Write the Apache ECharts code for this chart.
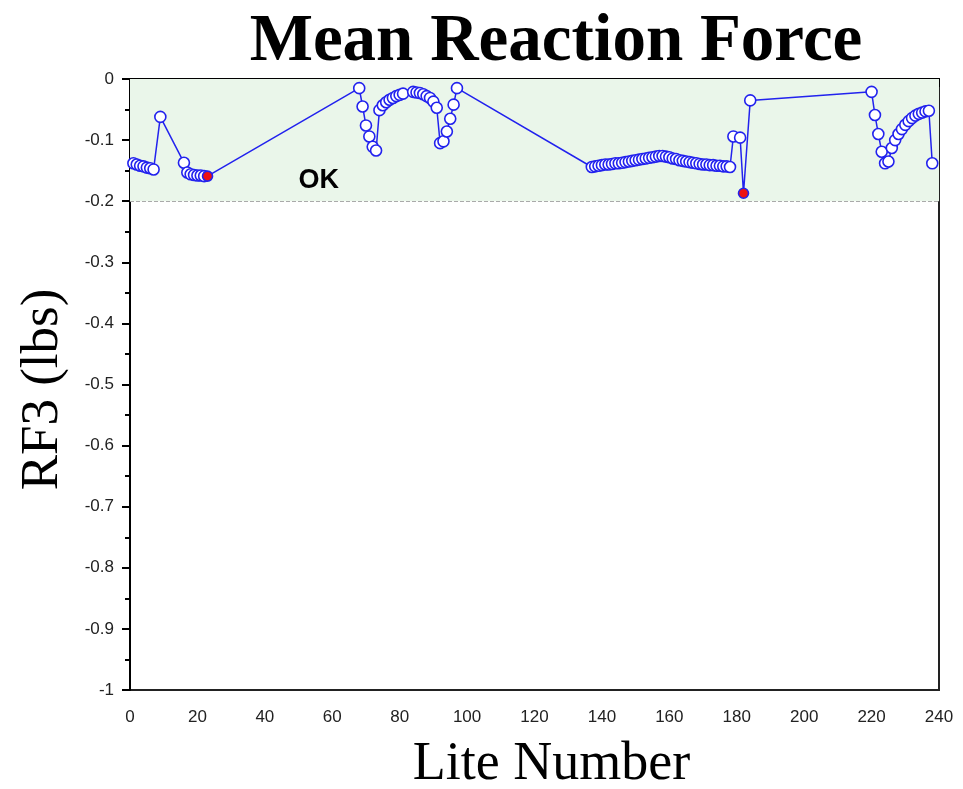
<!DOCTYPE html>
<html>
<head>
<meta charset="utf-8">
<script src="https://cdn.jsdelivr.net/npm/echarts@6/dist/echarts.min.js"></script>
<style>html,body{margin:0;padding:0;background:#fff;}#c{width:963px;height:789px;}</style>
</head>
<body>
<div id="c"></div>
<script>
// ---- data ----
const liteNumbers = [
  1,2,3,4,5,6,7,
  9,
  16,17,18,19,20,21,22,23,
  68,69,70,71,72,73,
  74,75,76,77,78,79,80,81,
  84,85,86,87,88,89,90,91,
  92,93,94,95,96,97,
  137,138,139,140,141,142,143,144,145,146,147,148,149,150,151,152,153,154,155,156,157,
  158,159,160,161,162,163,164,165,166,167,168,169,170,171,172,173,174,175,176,177,178,
  179,181,182,184,
  220,221,222,223,224,225,
  226,227,228,229,230,231,232,233,234,235,236,237,
  238
];
const rf3Values = [
  -0.138,-0.140,-0.142,-0.143,-0.145,-0.146,-0.148,
  -0.062,
  -0.137,-0.153,-0.156,-0.157,-0.158,-0.158,-0.159,-0.159,
  -0.015,-0.045,-0.076,-0.094,-0.111,-0.117,
  -0.051,-0.043,-0.038,-0.034,-0.031,-0.028,-0.026,-0.024,
  -0.021,-0.022,-0.023,-0.025,-0.028,-0.031,-0.037,-0.047,
  -0.105,-0.102,-0.086,-0.065,-0.042,-0.015,
  -0.144,-0.143,-0.142,-0.141,-0.140,-0.140,-0.139,-0.138,-0.138,-0.137,-0.136,-0.135,-0.134,-0.133,-0.132,-0.131,-0.130,-0.129,-0.128,-0.127,-0.126,
  -0.126,-0.127,-0.128,-0.130,-0.131,-0.133,-0.134,-0.135,-0.136,-0.137,-0.138,-0.139,-0.140,-0.140,-0.141,-0.141,-0.142,-0.142,-0.143,-0.143,-0.144,
  -0.094,-0.096,-0.187,-0.035,
  -0.021,-0.059,-0.090,-0.119,-0.138,-0.135,
  -0.113,-0.100,-0.090,-0.082,-0.075,-0.069,-0.064,-0.060,-0.057,-0.055,-0.053,-0.052,
  -0.138
];
const highlightedLites = [23, 182];
const okBandLimits = [0, -0.2];
const okLabel = 'OK';
const okLabelPos = [56, -0.166];

const titleText = 'Mean Reaction Force';
const xAxisTitle = 'Lite Number';
const yAxisTitle = 'RF3 (lbs)';

const seriesData = liteNumbers.map((x, i) => {
  const item = { value: [x, rf3Values[i]] };
  if (highlightedLites.includes(x)) {
    item.itemStyle = { color: '#ee1111', borderColor: '#2222ee' };
    item.symbolSize = 10;
  }
  return item;
});

const chart = echarts.init(document.getElementById('c'));
const labelFont = { fontFamily: 'Liberation Sans', fontSize: 17, color: '#222' };

chart.setOption({
  backgroundColor: '#fff',
  animation: false,
  title: {
    text: titleText,
    left: 551, top: 4, textAlign: 'center',
    textStyle: { fontFamily: 'Liberation Serif', fontWeight: 'bold', fontSize: 67, color: '#000' }
  },
  grid: {
    left: 130, right: 24, top: 79, bottom: 99,
    outerBoundsMode: 'none', containLabel: false,
    show: true, borderColor: '#222', borderWidth: 2, backgroundColor: 'transparent'
  },
  xAxis: {
    type: 'value', min: 0, max: 240, interval: 20,
    name: xAxisTitle, nameLocation: 'middle', nameGap: 48,
    nameTextStyle: { fontFamily: 'Liberation Serif', fontSize: 54, color: '#000', padding: [0, 0, 0, 34] },
    axisLine: { show: true, lineStyle: { color: '#000', width: 2 } },
    axisTick: { show: true, length: 8, lineStyle: { color: '#000', width: 2 } },
    minorTick: { show: true, splitNumber: 2, length: 5, lineStyle: { color: '#000', width: 2 } },
    splitLine: { show: false },
    axisLabel: Object.assign({ margin: 19 }, labelFont)
  },
  yAxis: {
    type: 'value', min: -1, max: 0, interval: 0.1,
    name: yAxisTitle, nameLocation: 'middle', nameGap: 60, nameRotate: 90,
    nameTextStyle: { fontFamily: 'Liberation Serif', fontSize: 53, color: '#000', padding: [0, 10, 0, 0] },
    axisLine: { show: true, lineStyle: { color: '#000', width: 2 } },
    axisTick: { show: true, length: 8, lineStyle: { color: '#000', width: 2 } },
    minorTick: { show: true, splitNumber: 2, length: 5, lineStyle: { color: '#000', width: 2 } },
    splitLine: { show: false },
    axisLabel: Object.assign({ margin: 16, formatter: v => String(Math.round(v * 10) / 10) }, labelFont)
  },
  series: [{
    type: 'line',
    data: seriesData,
    symbol: 'circle',
    symbolSize: 11,
    showAllSymbol: true,
    lineStyle: { color: '#2222ee', width: 1.5 },
    itemStyle: { color: '#ffffff', borderColor: '#2222ee', borderWidth: 1.6 },
    z: 5,
    markArea: {
      silent: true,
      itemStyle: { color: '#eaf6ea' },
      data: [[{ yAxis: okBandLimits[0] }, { yAxis: okBandLimits[1] }]]
    },
    markLine: {
      silent: true, symbol: 'none',
      lineStyle: { color: '#aaaaaa', type: 'dashed', width: 1 },
      label: { show: false },
      data: [{ yAxis: okBandLimits[1] }]
    },
    markPoint: {
      silent: true,
      symbol: 'circle', symbolSize: 0,
      label: {
        show: true, formatter: okLabel,
        fontFamily: 'Liberation Sans', fontWeight: 'bold', fontSize: 27, color: '#000'
      },
      data: [{ coord: okLabelPos }]
    }
  }]
});
</script>
</body>
</html>
